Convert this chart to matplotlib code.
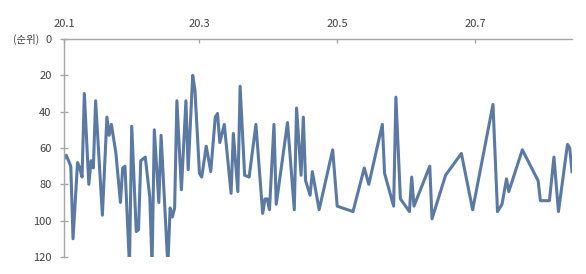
import matplotlib
matplotlib.use("Agg")
import matplotlib.pyplot as plt
import pandas as pd

plt.rcParams['font.family'] = ['Noto Sans CJK KR', 'DejaVu Sans']

dates = [
    "2020-01-01", "2020-01-02", "2020-01-04", "2020-01-05", "2020-01-07", "2020-01-08",
    "2020-01-09", "2020-01-10", "2020-01-12", "2020-01-13", "2020-01-14", "2020-01-15",
    "2020-01-18", "2020-01-20", "2020-01-21", "2020-01-22", "2020-01-24", "2020-01-26",
    "2020-01-27", "2020-01-28", "2020-01-30", "2020-01-31", "2020-02-02", "2020-02-03",
    "2020-02-04", "2020-02-06", "2020-02-08", "2020-02-09", "2020-02-10", "2020-02-12",
    "2020-02-13", "2020-02-16", "2020-02-17", "2020-02-18", "2020-02-19", "2020-02-20",
    "2020-02-22", "2020-02-24", "2020-02-25", "2020-02-27", "2020-02-28", "2020-03-01",
    "2020-03-02", "2020-03-04", "2020-03-06", "2020-03-08", "2020-03-09", "2020-03-10",
    "2020-03-12", "2020-03-15", "2020-03-16", "2020-03-18", "2020-03-19", "2020-03-21",
    "2020-03-23", "2020-03-26", "2020-03-29", "2020-03-30", "2020-03-31", "2020-04-01",
    "2020-04-03", "2020-04-04", "2020-04-09", "2020-04-12", "2020-04-13", "2020-04-15",
    "2020-04-16", "2020-04-17", "2020-04-19", "2020-04-20", "2020-04-23", "2020-04-29",
    "2020-05-01", "2020-05-08", "2020-05-13", "2020-05-15", "2020-05-21", "2020-05-22",
    "2020-05-26", "2020-05-27", "2020-05-29", "2020-06-02", "2020-06-03", "2020-06-04",
    "2020-06-11", "2020-06-12", "2020-06-18", "2020-06-25", "2020-06-30", "2020-07-09",
    "2020-07-11", "2020-07-13", "2020-07-15", "2020-07-16", "2020-07-22", "2020-07-29",
    "2020-07-30", "2020-08-03", "2020-08-05", "2020-08-07", "2020-08-11", "2020-08-12",
    "2020-08-13",
]
ranks = [
    66, 64, 70, 110, 68, 71,
    76, 30, 80, 67, 71, 34,
    97, 43, 53, 47, 63, 90,
    71, 70, 125, 48, 106, 105,
    67, 65, 87, 125, 50, 90,
    53, 125, 93, 98, 93, 34,
    83, 34, 72, 20, 28, 74,
    76, 59, 73, 43, 41, 57,
    47, 85, 52, 84, 26, 75,
    76, 47, 96, 88, 88, 94,
    47, 91, 46, 94, 38, 75,
    43, 78, 86, 73, 94, 61,
    92, 95, 71, 80, 47, 74,
    92, 32, 88, 95, 76, 92,
    70, 99, 75, 63, 94, 36,
    95, 91, 77, 84, 61, 78,
    89, 89, 65, 95, 58, 60,
    73,
]
x_ticks = ["2020-01-01", "2020-03-01", "2020-05-01", "2020-07-01"]
x_tick_labels = ["20.1", "20.3", "20.5", "20.7"]
y_ticks = [0, 20, 40, 60, 80, 100, 120]

x = pd.to_datetime(dates)

fig = plt.figure(figsize=(5.86, 2.74), dpi=100)
ax = fig.add_axes([64/586, 1-257/274, (572-64)/586, (257-39)/274])

ax.plot(x, ranks, color='#5a7aa3', linewidth=2.2, solid_joinstyle='round')

ax.set_ylim(120, 0)
ax.set_xlim(pd.Timestamp(dates[0]), pd.Timestamp(dates[-1]))
ax.set_yticks(y_ticks)
ax.set_xticks(pd.to_datetime(x_ticks))
ax.set_xticklabels(x_tick_labels)

ax.xaxis.tick_top()
for s in ['right', 'bottom']:
    ax.spines[s].set_visible(False)
for s in ['left', 'top']:
    ax.spines[s].set_color('#a6a6a6')
    ax.spines[s].set_linewidth(1.0)

ax.tick_params(axis='y', direction='inout', length=6, width=1.0, color='#a6a6a6',
               labelsize=8, labelcolor='#404040', pad=6)
ax.tick_params(axis='x', direction='in', length=3, width=1.0, color='#a6a6a6',
               labelsize=8, labelcolor='#404040', pad=7)

ax.text(-(64 - 39) / 508, 1.0, "(순위)", transform=ax.transAxes, ha='right', va='center',
        fontsize=7.5, color='#404040')

fig.savefig("out.png", dpi=100)
